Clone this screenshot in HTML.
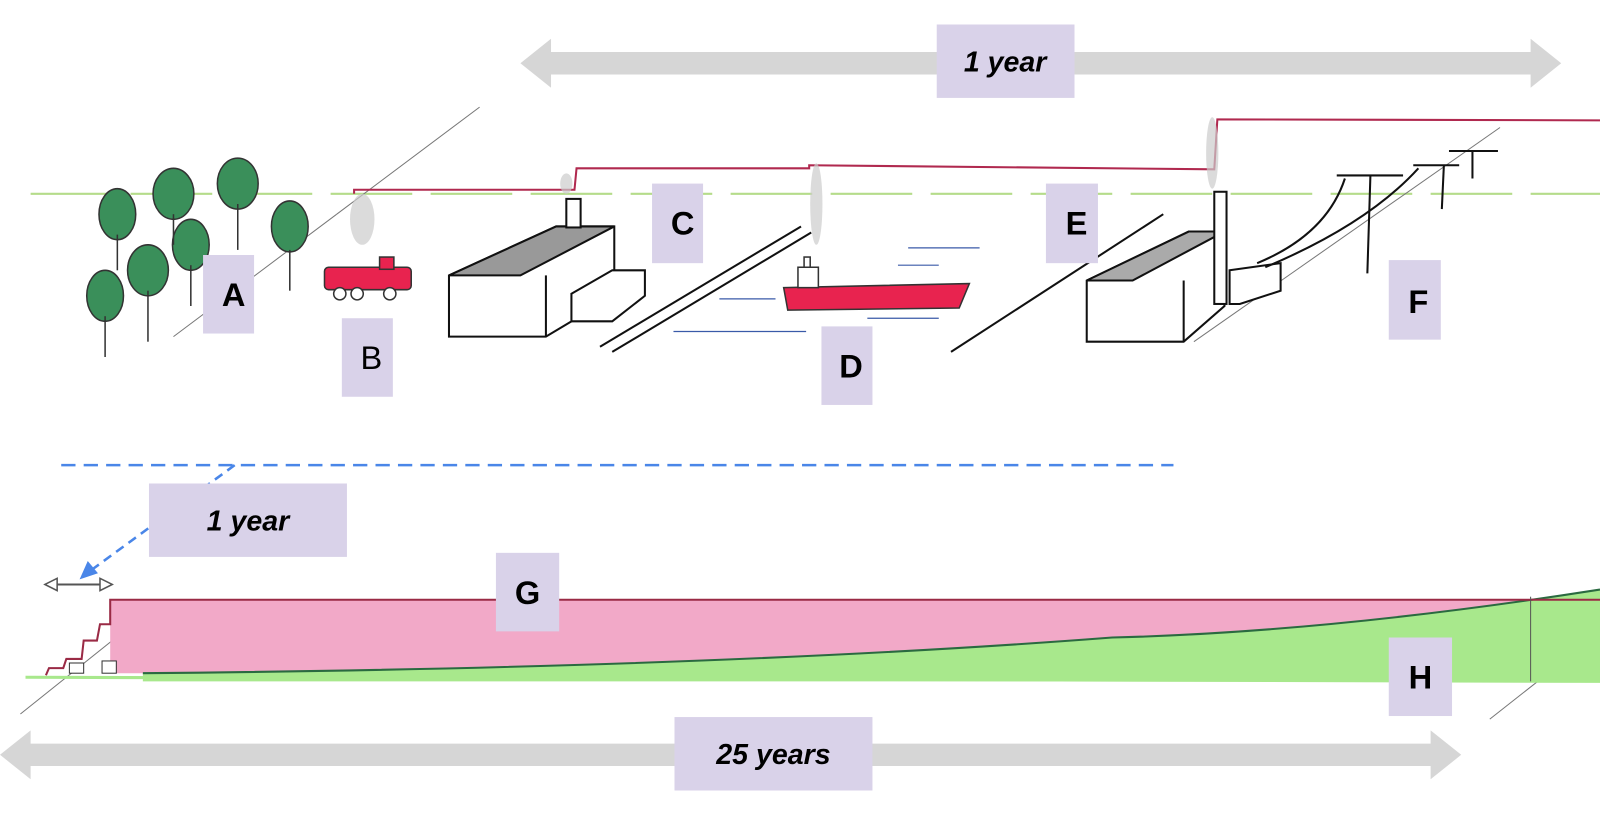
<!DOCTYPE html>
<html><head><meta charset="utf-8"><style>
html,body{margin:0;padding:0;background:#fff;}
svg{display:block;}
text{font-family:"Liberation Sans",sans-serif;}
</style></head><body>
<svg width="1600" height="816" viewBox="0 0 1568 800" preserveAspectRatio="none" xmlns="http://www.w3.org/2000/svg">
<rect width="1568" height="800" fill="#fff"/>
<!-- top arrow -->
<polygon points="510,62 540,38 540,51 1500,51 1500,38 1530,62 1500,86 1500,73 540,73 540,86" fill="#d6d6d6"/>
<!-- bottom arrow -->
<polygon points="0,740 30,716 30,729 1402,729 1402,716 1432,740 1402,764 1402,751 30,751 30,764" fill="#d6d6d6"/>
<!-- green dashed -->
<line x1="30" y1="190" x2="1568" y2="190" stroke="#b5dc8a" stroke-width="2" stroke-dasharray="80,18"/>
<!-- perspective lines -->
<g stroke="#777" stroke-width="1" fill="none">
<line x1="330" y1="210" x2="470" y2="105"/>
<line x1="1170" y1="335" x2="1470" y2="125"/>
<line x1="20" y1="700" x2="120" y2="620"/>
<line x1="1460" y1="705" x2="1568" y2="620"/>
<line x1="170" y1="330" x2="330" y2="210"/>
</g>
<!-- red line -->
<polyline points="347,190 347,186 563,186 565,165 793,165 793,162 1190,166 1193,117 1568,118" fill="none" stroke="#b0294f" stroke-width="2"/>
<!-- smoke -->
<g fill="#ccc" opacity="0.7">
<ellipse cx="355" cy="215" rx="12" ry="25"/>
<ellipse cx="555" cy="180" rx="6" ry="10"/>
<ellipse cx="800" cy="200" rx="6" ry="40"/>
<ellipse cx="1188" cy="150" rx="6" ry="35"/>
</g>
<!-- trees -->
<g stroke="#333" stroke-width="1.5">
<g fill="#3a8f5a">
<ellipse cx="115" cy="210" rx="18" ry="25"/><ellipse cx="170" cy="190" rx="20" ry="25"/><ellipse cx="233" cy="180" rx="20" ry="25"/>
<ellipse cx="187" cy="240" rx="18" ry="25"/><ellipse cx="284" cy="222" rx="18" ry="25"/><ellipse cx="103" cy="290" rx="18" ry="25"/><ellipse cx="145" cy="265" rx="20" ry="25"/>
</g>
<line x1="115" y1="230" x2="115" y2="265"/><line x1="170" y1="210" x2="170" y2="240"/><line x1="233" y1="200" x2="233" y2="245"/>
<line x1="187" y1="260" x2="187" y2="300"/><line x1="284" y1="245" x2="284" y2="285"/><line x1="103" y1="310" x2="103" y2="350"/><line x1="145" y1="285" x2="145" y2="335"/>
</g>
<!-- truck -->
<g stroke="#333" stroke-width="1.5" fill="#e8234f">
<rect x="318" y="262" width="85" height="22" rx="4"/>
<rect x="372" y="252" width="14" height="12"/>
<g fill="#fff"><circle cx="333" cy="288" r="6"/><circle cx="350" cy="288" r="6"/><circle cx="382" cy="288" r="6"/></g>
</g>
<!-- factory 1 -->
<g stroke="#111" stroke-width="2" fill="#fff">
<polygon points="440,270 545,222 602,222 602,290 535,330 440,330"/>
<polygon points="440,270 545,222 602,222 510,270" fill="#999"/>
<line x1="535" y1="270" x2="535" y2="330"/>
<rect x="555" y="195" width="14" height="28"/>
<polygon points="560,288 600,265 632,265 632,290 600,315 560,315"/>
</g>
<line x1="588" y1="340" x2="785" y2="222" stroke="#111" stroke-width="2"/>
<line x1="600" y1="345" x2="795" y2="228" stroke="#111" stroke-width="2"/>
<!-- ship -->
<g stroke="#333" stroke-width="1.5">
<polygon points="768,282 950,278 940,302 772,304" fill="#e8234f"/>
<rect x="782" y="262" width="20" height="20" fill="#fff"/>
<rect x="788" y="252" width="6" height="10" fill="#fff"/>
</g>
<g stroke="#3a5aa8" stroke-width="1.2">
<line x1="705" y1="293" x2="760" y2="293"/><line x1="890" y1="243" x2="960" y2="243"/><line x1="660" y1="325" x2="790" y2="325"/><line x1="850" y1="312" x2="920" y2="312"/><line x1="880" y1="260" x2="920" y2="260"/>
</g>
<line x1="932" y1="345" x2="1140" y2="210" stroke="#111" stroke-width="2"/>
<!-- factory 2 -->
<g stroke="#111" stroke-width="2" fill="#fff">
<polygon points="1065,275 1165,227 1200,227 1200,300 1160,335 1065,335"/>
<polygon points="1065,275 1165,227 1200,227 1110,275" fill="#aaa"/>
<line x1="1160" y1="275" x2="1160" y2="335"/>
<rect x="1190" y="188" width="12" height="110"/>
<polygon points="1205,265 1255,258 1255,285 1215,298 1205,298"/>
</g>
<g stroke="#111" stroke-width="2" fill="none">
<line x1="1310" y1="172" x2="1375" y2="172"/><line x1="1343" y1="172" x2="1340" y2="268"/>
<line x1="1385" y1="162" x2="1430" y2="162"/><line x1="1415" y1="162" x2="1413" y2="205"/>
<line x1="1420" y1="148" x2="1468" y2="148"/><line x1="1443" y1="148" x2="1443" y2="175"/>
<path d="M1232,258 Q1300,230 1318,175"/><path d="M1240,262 Q1340,220 1390,165"/>
</g>
<!-- blue dashed -->
<line x1="60" y1="456" x2="1150" y2="456" stroke="#4a86e8" stroke-width="2.5" stroke-dasharray="14,8"/>
<line x1="230" y1="456" x2="88" y2="560" stroke="#4a86e8" stroke-width="2.5" stroke-dasharray="9,6"/>
<polygon points="78,568 86,550 96,562" fill="#4a86e8"/>
<!-- small double arrow -->
<line x1="50" y1="573" x2="104" y2="573" stroke="#555" stroke-width="2"/>
<polygon points="44,573 56,567 56,579" fill="#fff" stroke="#555" stroke-width="1.5"/>
<polygon points="110,573 98,567 98,579" fill="#fff" stroke="#555" stroke-width="1.5"/>
<!-- pink & green areas -->
<path d="M108,588 L1568,588 L1568,578 Q1300,630 1090,625 Q700,655 140,660 L108,660 Z" fill="#f2a9c8"/>
<path d="M140,660 Q700,655 1090,625 Q1300,620 1568,578 L1568,668 L140,668 Z" fill="#a8e88c"/>
<path d="M140,660 Q700,655 1090,625 Q1300,620 1568,578" fill="none" stroke="#2a6a40" stroke-width="2"/>
<polyline points="45,662 48,655 62,655 65,646 80,646 82,628 95,628 98,612 108,612 108,588 1568,588" fill="none" stroke="#9a2a45" stroke-width="2"/>
<line x1="25" y1="664" x2="1568" y2="668" stroke="#a8e88c" stroke-width="3"/>
<line x1="1500" y1="585" x2="1500" y2="668" stroke="#555" stroke-width="1"/>
<g stroke="#333" stroke-width="1" fill="#fff"><rect x="68" y="650" width="14" height="10"/><rect x="100" y="648" width="14" height="12"/></g>
<!-- labels -->
<g fill="#d9d2e9">
<rect x="918" y="24" width="135" height="72"/>
<rect x="661" y="703" width="194" height="72"/>
<rect x="146" y="474" width="194" height="72"/>
<rect x="199" y="250" width="50" height="77"/>
<rect x="335" y="312" width="50" height="77"/>
<rect x="639" y="180" width="50" height="78"/>
<rect x="805" y="320" width="50" height="77"/>
<rect x="1025" y="180" width="51" height="78"/>
<rect x="1361" y="255" width="51" height="78"/>
<rect x="486" y="542" width="62" height="77"/>
<rect x="1361" y="625" width="62" height="77"/>
</g>
<g font-size="28" font-weight="bold" text-anchor="middle" fill="#000">
<text x="985" y="70" font-style="italic">1 year</text>
<text x="758" y="749" font-style="italic">25 years</text>
<text x="243" y="520" font-style="italic">1 year</text>
<text x="229" y="300" font-size="32">A</text>
<text x="364" y="362" font-size="32" font-weight="normal">B</text>
<text x="669" y="230" font-size="32">C</text>
<text x="834" y="370" font-size="32">D</text>
<text x="1055" y="230" font-size="32">E</text>
<text x="1390" y="307" font-size="32">F</text>
<text x="517" y="592" font-size="32">G</text>
<text x="1392" y="675" font-size="32">H</text>
</g>
</svg>
</body></html>
